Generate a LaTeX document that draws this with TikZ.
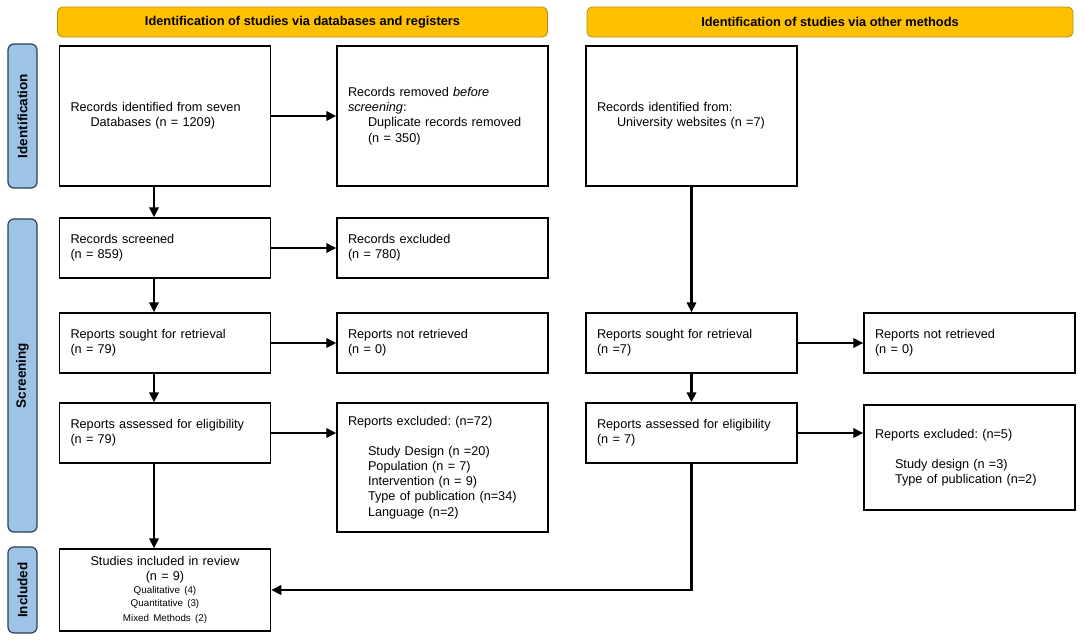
\documentclass[tikz,border=0pt]{standalone}
\usepackage{fontspec}
\setmainfont{Liberation Sans}
\usetikzlibrary{arrows.meta}
\definecolor{gold}{HTML}{FFC000}
\definecolor{goldline}{HTML}{B8900A}
\definecolor{lblue}{HTML}{9DC3E6}
\definecolor{lblueline}{HTML}{2E3F55}
\frenchspacing
\begin{document}
\begin{tikzpicture}[x=1pt,y=-1pt,
  box/.style={draw=black, line width=1.5pt, rectangle, inner xsep=11pt, inner ysep=0pt,
    text width=189pt, minimum width=211pt, align=left,
    font=\fontsize{12.7}{15.2}\selectfont},
  hdr/.style={draw=goldline, fill=gold, line width=0.8pt, rounded corners=5pt,
    minimum height=30pt, inner sep=0pt, font=\bfseries\fontsize{12.8}{14}\selectfont},
  lab/.style={draw=lblueline, fill=lblue, line width=1.2pt, rounded corners=6pt,
    rotate=90, minimum height=29pt, inner sep=0pt, font=\bfseries\fontsize{13.5}{14}\selectfont},
  arr/.style={line width=2.1pt, -{Triangle[length=10pt,width=9.5pt]}}]
\path[use as bounding box, fill=white] (0,0) rectangle (1084,643);

% headers
\node[hdr, minimum width=490pt] (H1) at (302.5,22) {Identification of studies via databases and registers};
\node[hdr, minimum width=486pt] (H2) at (830,22) {Identification of studies via other methods};

% side labels
\node[lab, minimum width=144pt] (L1) at (22.5,116) {Identification};
\node[lab, minimum width=313pt] (L2) at (22.5,375.5) {Screening};
\node[lab, minimum width=86pt] (L3) at (22.5,590) {Included};

% left column
\node[box, minimum height=140pt] (A) at (165,116) {Records identified from seven\\\hspace*{20pt}Databases (n = 1209)};
\node[box, minimum height=140pt] (B) at (442.5,116) {Records removed \textit{before}\\\textit{screening}:\\\hspace*{20pt}Duplicate records removed\\\hspace*{20pt}(n = 350)};
\node[box, minimum height=60pt] (S) at (165,248) {Records screened\\(n = 859)};
\node[box, minimum height=60pt] (E) at (442.5,248) {Records excluded\\(n = 780)};
\node[box, minimum height=60pt] (R) at (165,343) {Reports sought for retrieval\\(n = 79)};
\node[box, minimum height=60pt] (N) at (442.5,343) {Reports not retrieved\\(n = 0)};
\node[box, minimum height=60pt] (V) at (165,433) {Reports assessed for eligibility\\(n = 79)};
\node[box, minimum height=129pt] (X) at (442.5,467.5) {Reports excluded: (n=72)\\[14.8pt]\hspace*{20pt}Study Design (n =20)\\\hspace*{20pt}Population (n = 7)\\\hspace*{20pt}Intervention (n = 9)\\\hspace*{20pt}Type of publication (n=34)\\\hspace*{20pt}Language (n=2)};
\node[box, minimum height=82pt, align=center] (I) at (165,590) {Studies included in review\\(n = 9)\\[-1pt]{\fontsize{9.8}{13.5}\selectfont Qualitative (4)\\Quantitative (3)\\Mixed Methods (2)}};

% right column
\node[box, minimum height=140pt] (C) at (691.5,116) {Records identified from:\\\hspace*{20pt}University websites (n =7)};
\node[box, minimum height=60pt] (R2) at (691.5,343) {Reports sought for retrieval\\(n =7)};
\node[box, minimum height=60pt] (N2) at (969.5,343) {Reports not retrieved\\(n = 0)};
\node[box, minimum height=60pt] (V2) at (691.5,433) {Reports assessed for eligibility\\(n = 7)};
\node[box, minimum height=105pt] (X2) at (969.5,457.5) {Reports excluded: (n=5)\\[14.8pt]\hspace*{20pt}Study design (n =3)\\\hspace*{20pt}Type of publication (n=2)};

\coordinate (lx) at (154,0);

% connectors left
\draw[arr] (A.east) -- (B.west |- A.east);
\draw[arr] (S.east) -- (E.west |- S.east);
\draw[arr] (R.east) -- (N.west |- R.east);
\draw[arr] (V.east) -- (X.west |- V.east);
\draw[arr] (A.south -| lx) -- (S.north -| lx);
\draw[arr] (S.south -| lx) -- (R.north -| lx);
\draw[arr] (R.south -| lx) -- (V.north -| lx);
\draw[arr] (V.south -| lx) -- (I.north -| lx);

% connectors right
\draw[arr] (C.south) -- (R2.north);
\draw[arr] (R2.east) -- (N2.west |- R2.east);
\draw[arr] (R2.south) -- (V2.north);
\draw[arr] (V2.east) -- (X2.west |- V2.east);
\draw[arr] (V2.south) |- (I.east);
\end{tikzpicture}
\end{document}
